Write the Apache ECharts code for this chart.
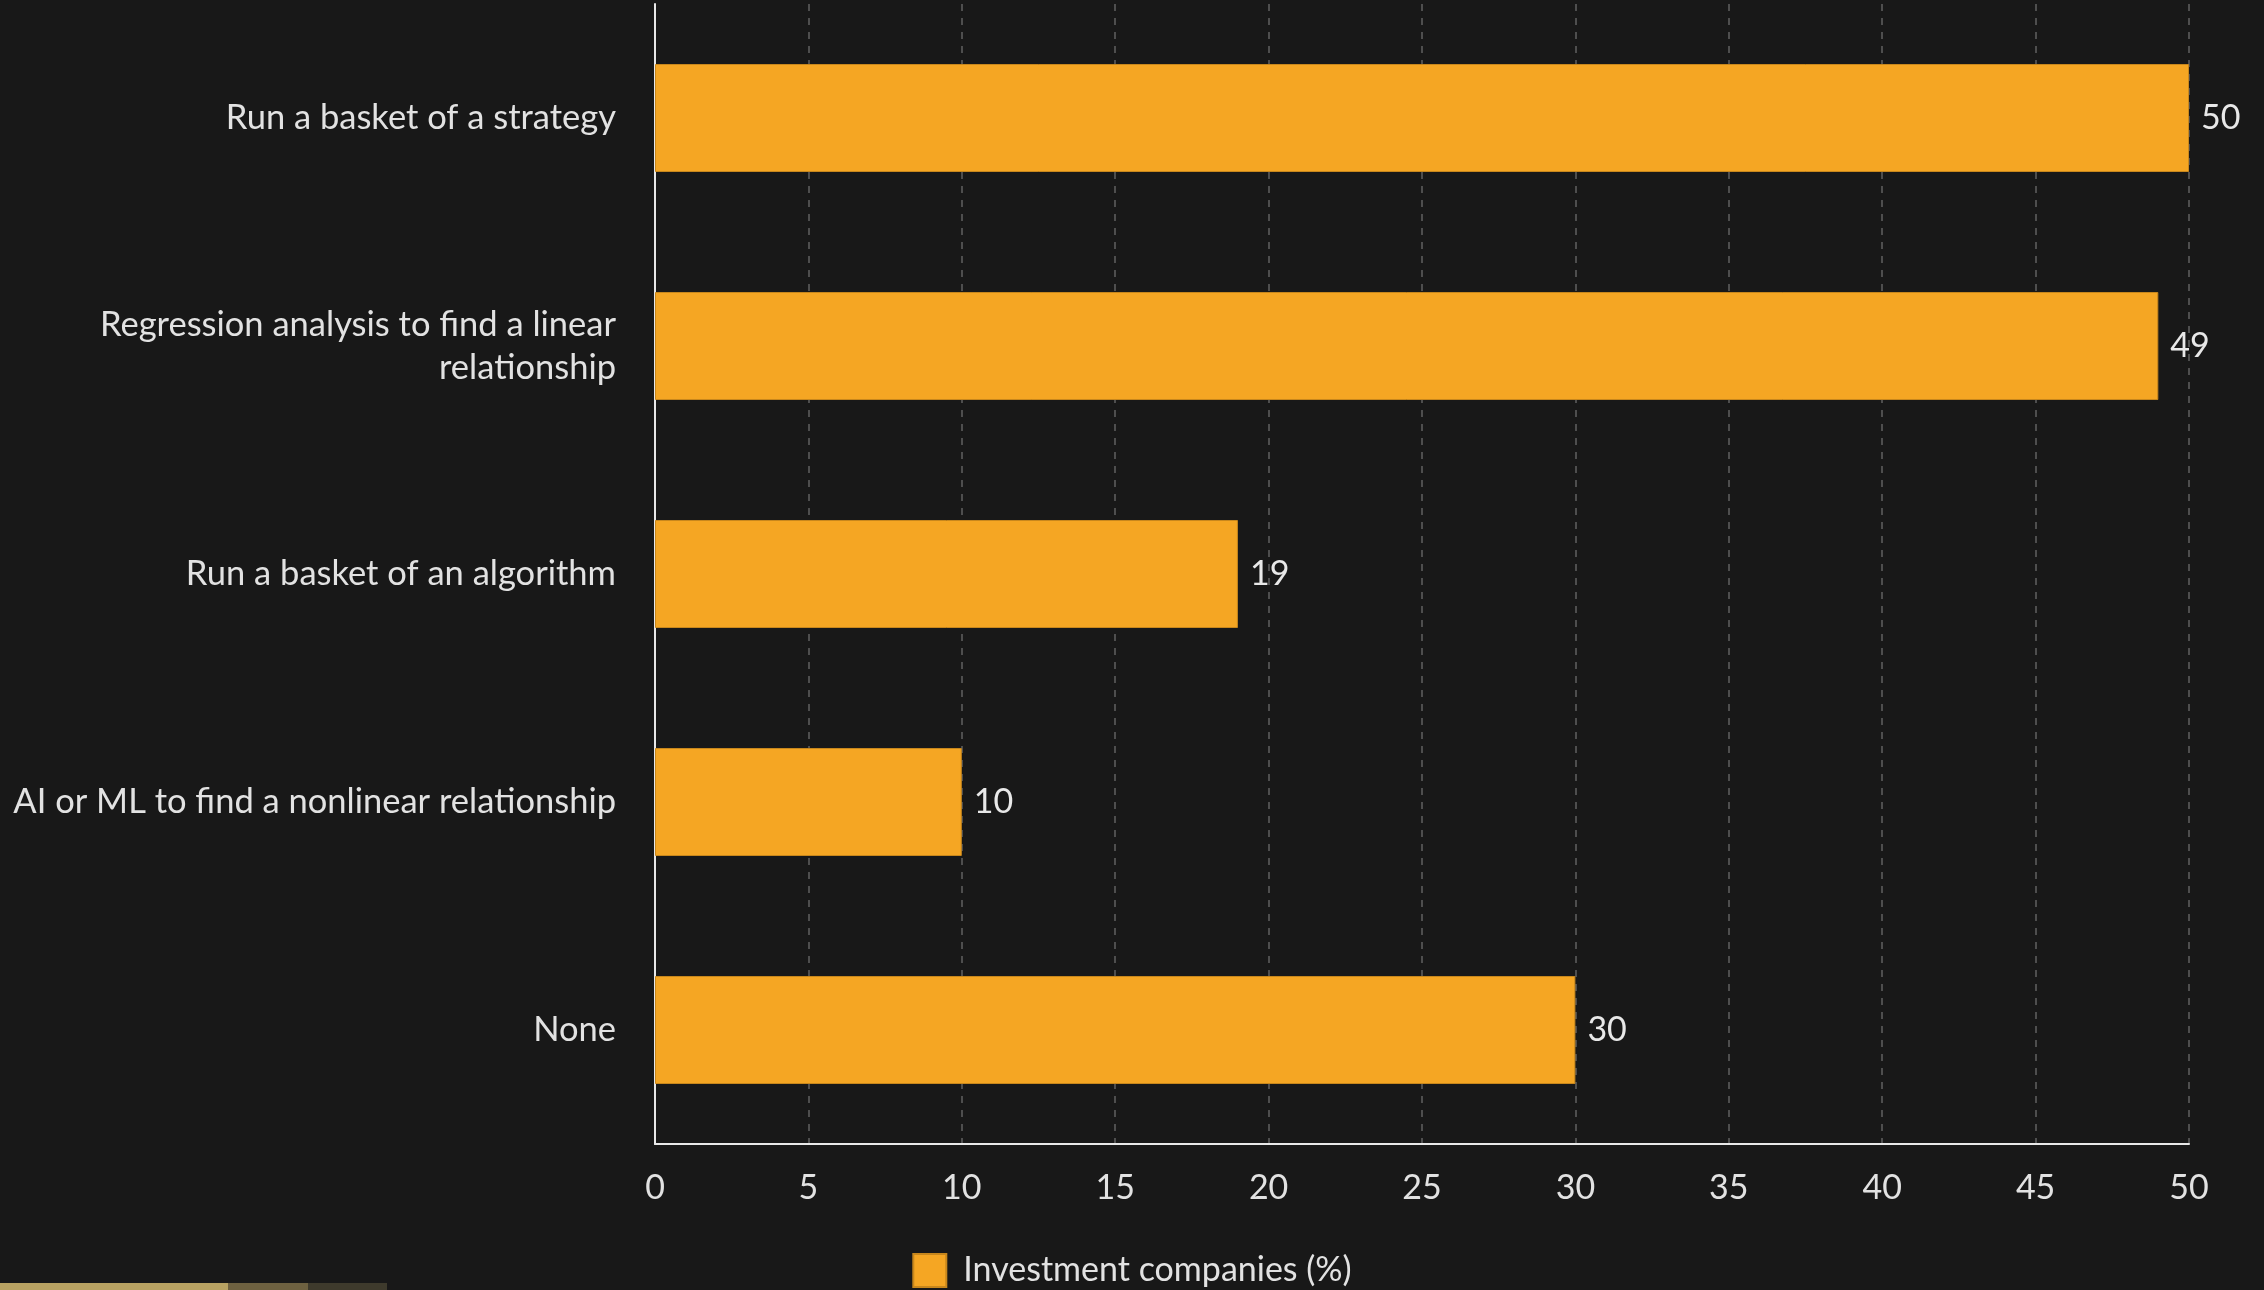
<!DOCTYPE html>
<html>
<head>
<meta charset="utf-8">
<script src="https://cdn.jsdelivr.net/npm/echarts@6/dist/echarts.min.js"></script>
<style>
  html, body { margin: 0; padding: 0; background: #181818; }
  #chart { width: 2264px; height: 1290px; }
</style>
</head>
<body>
<div id="chart"></div>
<script>
// categories top to bottom
var categories = [
    'Run a basket of a strategy',
    'Regression analysis to find a linear\nrelationship',
    'Run a basket of an algorithm',
    'AI or ML to find a nonlinear relationship',
    'None'
];
var seriesName = 'Investment companies (%)';
var values = [50, 49, 19, 10, 30];
var xTicks = { min: 0, max: 50, interval: 5 };

var myChart = echarts.init(document.getElementById('chart'));
var font = 'Lato, "Open Sans", sans-serif';
var option = {
    backgroundColor: '#181818',
    animation: false,
    grid: {
        left: 655,
        right: 75,
        top: 4,
        bottom: 146
    },
    legend: {
        data: [seriesName],
        left: 'center',
        top: 1248,
        itemWidth: 33,
        itemHeight: 33,
        icon: 'rect',
        textStyle: {
            color: '#e2e2e2',
            fontSize: 34,
            fontFamily: font,
            padding: [0, 0, 0, 12]
        }
    },
    xAxis: {
        type: 'value',
        min: xTicks.min,
        max: xTicks.max,
        interval: xTicks.interval,
        axisLine: { show: true, lineStyle: { color: '#e8e8e8', width: 2 } },
        axisTick: { show: false },
        axisLabel: {
            color: '#e2e2e2',
            fontSize: 34,
            fontFamily: font,
            margin: 27
        },
        splitLine: {
            show: true,
            lineStyle: { color: '#4e4e4e', width: 2, type: [7, 7] }
        }
    },
    yAxis: {
        type: 'category',
        inverse: true,
        data: categories,
        axisLine: { show: true, lineStyle: { color: '#e8e8e8', width: 2 } },
        axisTick: { show: false },
        axisLabel: {
            color: '#e2e2e2',
            fontSize: 34.5,
            fontFamily: font,
            margin: 39,
            lineHeight: 43,
            padding: [5, 0, 0, 0],
            align: 'right'
        }
    },
    series: [{
        name: seriesName,
        type: 'bar',
        data: values,
        barWidth: 108,
        itemStyle: {
            color: '#f5a623',
            borderColor: '#c8871c',
            borderWidth: 1
        },
        label: {
            show: true,
            position: 'right',
            distance: 12,
            padding: [5, 0, 0, 0],
            color: '#e8e8e8',
            fontSize: 34,
            fontFamily: font
        }
    }],
    // stripe at the very bottom-left edge of the picture
    graphic: [
        { type: 'rect', left: 0, top: 1283, shape: { width: 228, height: 7 }, style: { fill: '#b8a262' } },
        { type: 'rect', left: 228, top: 1283, shape: { width: 80, height: 7 }, style: { fill: '#6e6140' } },
        { type: 'rect', left: 308, top: 1283, shape: { width: 79, height: 7 }, style: { fill: '#3e3a2c' } }
    ]
};
option && myChart.setOption(option);
</script>
</body>
</html>
